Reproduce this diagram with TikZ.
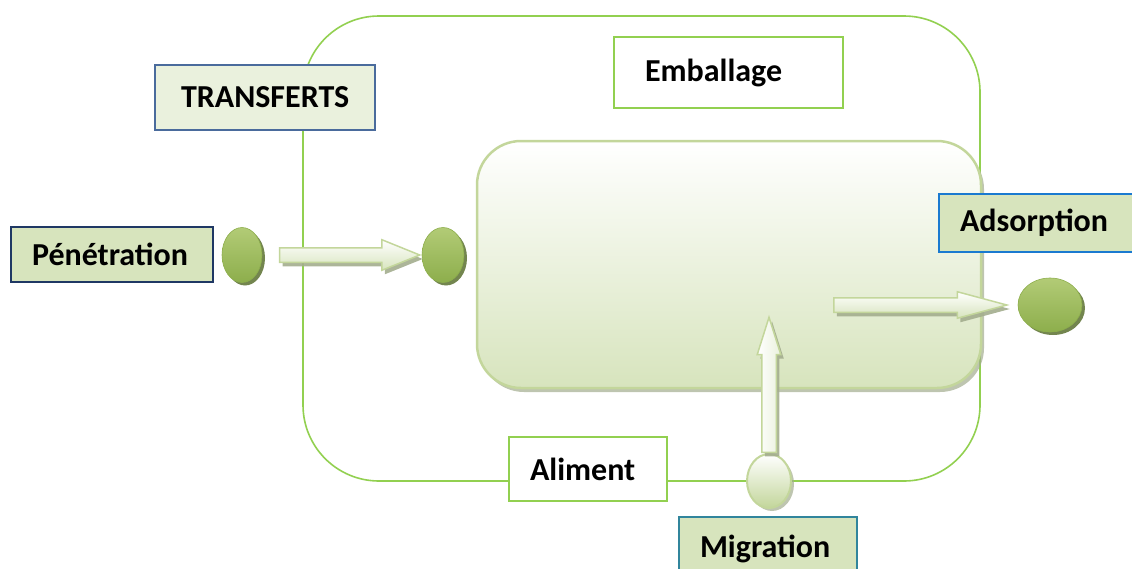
\documentclass[tikz,border=0pt]{standalone}
\usepackage{fontspec}
\setmainfont{Carlito}
\usetikzlibrary{shapes.geometric,shapes.arrows,shadows}
\definecolor{vertcadre}{HTML}{92D050}
\definecolor{vertclair}{HTML}{C3D69B}
\definecolor{vertfond}{HTML}{D7E4BD}
\definecolor{vertpale}{HTML}{EAF1DD}
\definecolor{bleutrans}{HTML}{4A6B9C}
\definecolor{marine}{HTML}{1F3864}
\definecolor{bleuads}{HTML}{1A7AD0}
\definecolor{sarcelle}{HTML}{31859C}
\definecolor{boulehaut}{HTML}{B2CB76}
\definecolor{boulebas}{HTML}{8DAE4C}
\definecolor{ombre}{HTML}{5A7030}
\definecolor{ombreclair}{HTML}{A3AD8E}

\begin{document}
\begin{tikzpicture}[x=1pt,y=-1pt,font=\fontsize{32}{38}\selectfont\bfseries,
  zone/.style={draw=vertcadre,line width=1.6pt,rounded corners=76pt},
  interieur/.style={draw=vertclair,line width=2.5pt,rounded corners=44pt,
    top color=white,middle color=vertpale,bottom color=vertfond,
    drop shadow={shadow xshift=3pt,shadow yshift=-4pt,fill=ombreclair,opacity=.7}},
  etiq/.style={rectangle,align=left,inner ysep=0pt,line width=1.6pt},
  boule/.style={ellipse,inner sep=0pt,draw=boulebas,line width=.6pt,
    top color=boulehaut,bottom color=boulebas,
    drop shadow={shadow xshift=3pt,shadow yshift=-3pt,fill=ombre,opacity=.85}},
  bouleblanche/.style={ellipse,inner sep=0pt,draw=vertclair,line width=2pt,
    top color=white,bottom color=vertclair,
    drop shadow={shadow xshift=3pt,shadow yshift=-3pt,fill=ombreclair,opacity=.7}},
  fleche/.style={single arrow,draw=vertclair,line width=1.5pt,inner sep=6.5pt,
    text height=0pt,text depth=0pt,text width=0pt,minimum width=0pt,
    single arrow head extend=8pt,single arrow head indent=0pt,
    top color=white,bottom color=vertfond,
    drop shadow={shadow xshift=3pt,shadow yshift=-4pt,fill=ombreclair,opacity=.9}}]
\useasboundingbox (0,0) rectangle (1132,568);

\node[zone,minimum width=677,minimum height=465] (emb) at (641.5,248.5) {};
\node[interieur,minimum width=504,minimum height=247] (alz) at (729,264.5) {};

\node[etiq,draw=bleutrans,fill=vertpale,minimum height=65,text width=168,inner xsep=26] (transferts) at (265,97.5) {TRANSFERTS};
\node[etiq,draw=vertcadre,fill=white,minimum height=71,text width=167,inner xsep=31] (emballage) at (728.5,72.5) {Emballage};
\node[etiq,draw=marine,fill=vertfond,line width=2pt,minimum height=55,text width=160,inner xsep=21] (penetration) at (112,254.5) {Pénétration};
\node[etiq,draw=bleuads,fill=vertfond,line width=2pt,minimum height=58,text width=159,inner xsep=21] (adsorption) at (1039.5,223) {Adsorption};
\node[etiq,draw=vertcadre,fill=white,minimum height=64,text width=116,inner xsep=21] (aliment) at (588,469) {Aliment};
\node[etiq,draw=sarcelle,fill=vertfond,line width=2pt,minimum height=63,text width=136,inner xsep=21] (migration) at (768,548.5) {Migration};

\node[boule,minimum width=40,minimum height=55] (p1) at (242,255) {};
\node[boule,minimum width=42,minimum height=55] (p2) at (443,255) {};
\node[boule,minimum width=64,minimum height=54] (a1) at (1050,305) {};
\node[bouleblanche,minimum width=44,minimum height=54] (m1) at (769,481) {};

\node[fleche,minimum height=140,single arrow tip angle=44,anchor=tip] (f1) at (p2.west) {};
\node[fleche,minimum height=173,single arrow head extend=6pt,single arrow tip angle=30,anchor=tip] (f2) at ([xshift=-8]a1.west) {};
\node[fleche,shape border rotate=90,minimum height=135,single arrow head extend=4.5pt,single arrow tip angle=35,anchor=tail,
  left color=white,right color=vertpale] (f3) at (m1.north) {};
\end{tikzpicture}
\end{document}
